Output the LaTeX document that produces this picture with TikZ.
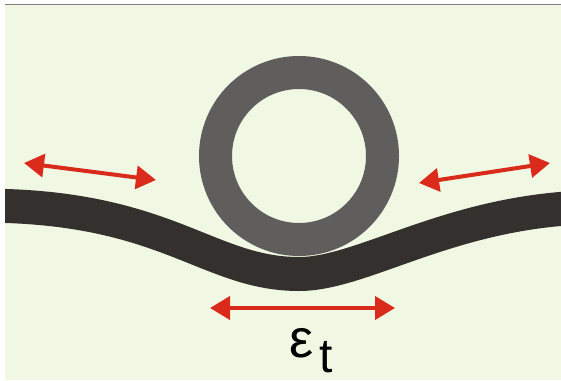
\documentclass[tikz,border=0pt]{standalone}
\usepackage{fontspec}
\setmainfont{Liberation Sans}
\usetikzlibrary{arrows.meta}
\definecolor{bg}{HTML}{F0F7E3}
\definecolor{topline}{HTML}{7E827A}
\definecolor{band}{HTML}{33302E}
\definecolor{ring}{HTML}{5F5E5C}
\definecolor{arrowred}{HTML}{DA2A1C}
\tikzset{
  strain/.style={arrowred, line width=4pt, {Triangle[length=20pt,width=23pt]}-{Triangle[length=20pt,width=23pt]}},
  label/.style={inner sep=0pt, anchor=base, font=\fontsize{54}{60}\selectfont}
}
\begin{document}
\begin{tikzpicture}[x=1pt,y=-1pt]
\useasboundingbox (0,0) rectangle (561,380);
\fill[white] (0,0) rectangle (561,380);
\fill[bg] (5,4) rectangle (561,380);
\draw[topline, line width=1.5pt] (5,4.5) -- (561,4.5);
% band
\begin{scope}
\clip (5,5) rectangle (561,380);
\draw[band, line width=34pt] (0,205.8) .. controls (170,210) and (210,274) .. (299,274)
   .. controls (360,274) and (440,218) .. (566,208.5);
\end{scope}
% ring
\coordinate (c) at (299,156);
\draw[ring, line width=33pt] (c) circle[radius=83.5];
% arrows
\coordinate (l1) at (24,163);
\coordinate (l2) at (156,180);
\coordinate (r1) at (419,183);
\coordinate (r2) at (550,163);
\coordinate (b1) at (210,308);
\coordinate (b2) at (395,308);
\draw[strain] (l1) -- (l2);
\draw[strain] (r1) -- (r2);
\draw[strain] (b1) -- (b2);
% label
\node[label] (eps) at (301.5,357) {ε};
\node[label, font=\fontsize{48}{60}\selectfont] (t) at (326.5,372) {t};
\end{tikzpicture}
\end{document}
